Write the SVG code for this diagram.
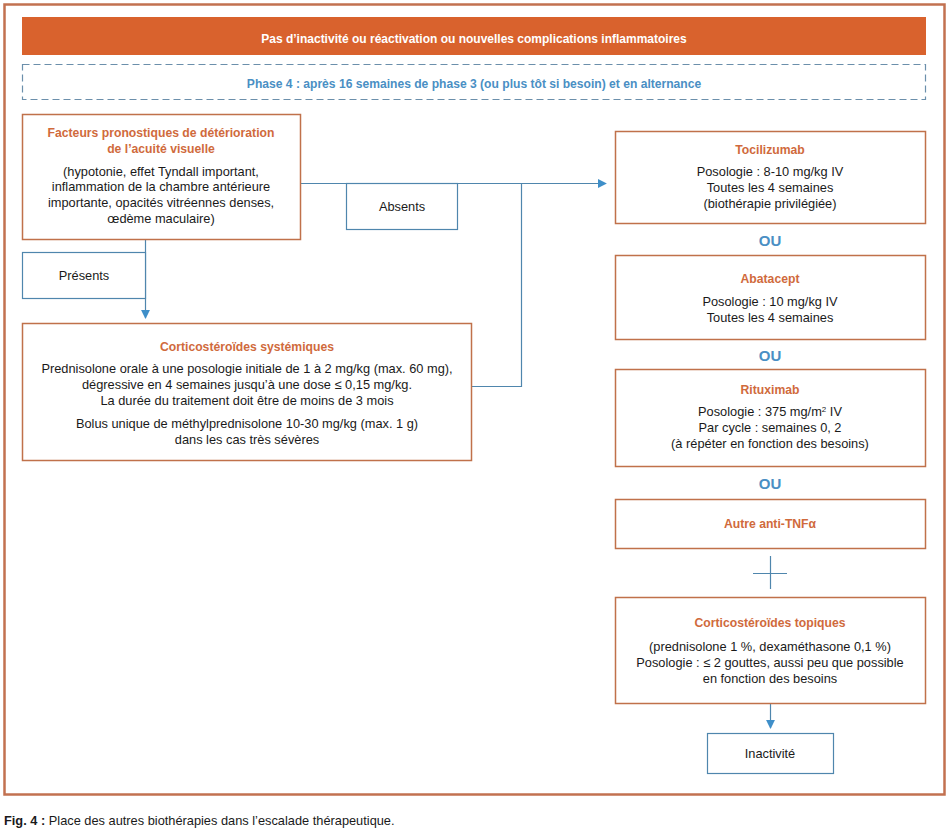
<svg xmlns="http://www.w3.org/2000/svg" width="951" height="831" viewBox="0 0 951 831">
<defs>
<style>
text{font-family:"Liberation Sans",Arial,sans-serif;font-size:12.8px;fill:#1a1a1a;text-anchor:middle}
.t{fill:#d06a3c;font-weight:bold;font-size:12.2px}
.ob{fill:none;stroke:#c0714a;stroke-width:1.5}
.bb{fill:#fff;stroke:#4f86ad;stroke-width:1.2}
.ln{fill:none;stroke:#4f86ad;stroke-width:1.2}
.ou{fill:#4a8fc4;font-weight:bold;font-size:15px}
</style>
<marker id="ah" viewBox="0 0 10 10" refX="9" refY="5" markerWidth="9" markerHeight="9" markerUnits="userSpaceOnUse" orient="auto">
<path d="M0,0 L10,5 L0,10 z" fill="#3f8fc9"/>
</marker>
</defs>
<rect width="951" height="831" fill="#fff"/>
<rect x="4.5" y="4.5" width="940" height="790" fill="none" stroke="#c27150" stroke-width="2.5"/>

<g id="banner">
<rect x="22" y="17" width="904" height="38" fill="#d9622d"/>
<text x="474" y="43" style="fill:#fff;font-weight:bold;font-size:12px">Pas d’inactivité ou réactivation ou nouvelles complications inflammatoires</text>
</g>
<g id="phase">
<rect x="22.5" y="64.5" width="903" height="35" fill="none" stroke="#6b8fab" stroke-width="1.2" stroke-dasharray="7,4"/>
<text x="474" y="88" style="fill:#4a8fc4;font-weight:bold;font-size:12.1px">Phase 4 : après 16 semaines de phase 3 (ou plus tôt si besoin) et en alternance</text>
</g>

<g id="connectors">
<path class="ln" d="M300,183.5 H606" marker-end="url(#ah)"/>
<path class="ln" d="M521.5,183.5 V386.5 H471"/>
<path class="ln" d="M145.5,239 V318" marker-end="url(#ah)"/>
<path class="ln" d="M770.5,556 V589 M753,573.5 H787"/>
<path class="ln" d="M770.5,704 V728" marker-end="url(#ah)"/>
</g>

<g id="facteurs">
<rect class="ob" x="22.5" y="114.5" width="278" height="125" fill="#fff"/>
<text class="t" x="161" y="137">Facteurs pronostiques de détérioration</text>
<text class="t" x="161" y="153">de l’acuité visuelle</text>
<text x="161" y="176">(hypotonie, effet Tyndall important,</text>
<text x="161" y="191">inflammation de la chambre antérieure</text>
<text x="161" y="207">importante, opacités vitréennes denses,</text>
<text x="161" y="223">œdème maculaire)</text>
</g>

<g id="absents">
<rect class="bb" x="346.5" y="183.5" width="111" height="46"/>
<text x="402" y="211">Absents</text>
</g>

<g id="presents">
<rect class="bb" x="22.5" y="252.5" width="123" height="46"/>
<text x="84" y="280">Présents</text>
</g>

<g id="cortico-sys">
<rect class="ob" x="22.5" y="323.5" width="449" height="137" fill="#fff"/>
<text class="t" x="247" y="351">Corticostéroïdes systémiques</text>
<text x="247" y="373">Prednisolone orale à une posologie initiale de 1 à 2 mg/kg (max. 60 mg),</text>
<text x="247" y="389">dégressive en 4 semaines jusqu’à une dose ≤ 0,15 mg/kg.</text>
<text x="247" y="405">La durée du traitement doit être de moins de 3 mois</text>
<text x="247" y="428">Bolus unique de méthylprednisolone 10-30 mg/kg (max. 1 g)</text>
<text x="247" y="444">dans les cas très sévères</text>
</g>

<g id="tocilizumab">
<rect class="ob" x="615.5" y="131.5" width="310" height="92"/>
<text class="t" x="770" y="154">Tocilizumab</text>
<text x="770" y="176">Posologie : 8-10 mg/kg IV</text>
<text x="770" y="192">Toutes les 4 semaines</text>
<text x="770" y="208">(biothérapie privilégiée)</text>
</g>
<text class="ou" x="770" y="246">OU</text>

<g id="abatacept">
<rect class="ob" x="615.5" y="255.5" width="310" height="84"/>
<text class="t" x="770" y="283">Abatacept</text>
<text x="770" y="306">Posologie : 10 mg/kg IV</text>
<text x="770" y="322">Toutes les 4 semaines</text>
</g>
<text class="ou" x="770" y="361">OU</text>

<g id="rituximab">
<rect class="ob" x="615.5" y="369.5" width="310" height="97"/>
<text class="t" x="770" y="394">Rituximab</text>
<text x="770" y="416">Posologie : 375 mg/m<tspan dy="-4" style="font-size:8px">2</tspan><tspan dy="4"> IV</tspan></text>
<text x="770" y="432">Par cycle : semaines 0, 2</text>
<text x="770" y="448">(à répéter en fonction des besoins)</text>
</g>
<text class="ou" x="770" y="489">OU</text>

<g id="anti-tnf">
<rect class="ob" x="615.5" y="499.5" width="310" height="49"/>
<text class="t" x="770" y="528">Autre anti-TNFα</text>
</g>

<g id="cortico-top">
<rect class="ob" x="615.5" y="597.5" width="310" height="106"/>
<text class="t" x="770" y="627">Corticostéroïdes topiques</text>
<text x="770" y="651">(prednisolone 1 %, dexaméthasone 0,1 %)</text>
<text x="770" y="667">Posologie : ≤ 2 gouttes, aussi peu que possible</text>
<text x="770" y="683">en fonction des besoins</text>
</g>

<g id="inactivite">
<rect class="bb" x="707.5" y="733.5" width="126" height="40"/>
<text x="770" y="758">Inactivité</text>
</g>

<text x="4" y="825" style="text-anchor:start"><tspan style="font-weight:bold">Fig. 4 :</tspan> Place des autres biothérapies dans l’escalade thérapeutique.</text>
</svg>
